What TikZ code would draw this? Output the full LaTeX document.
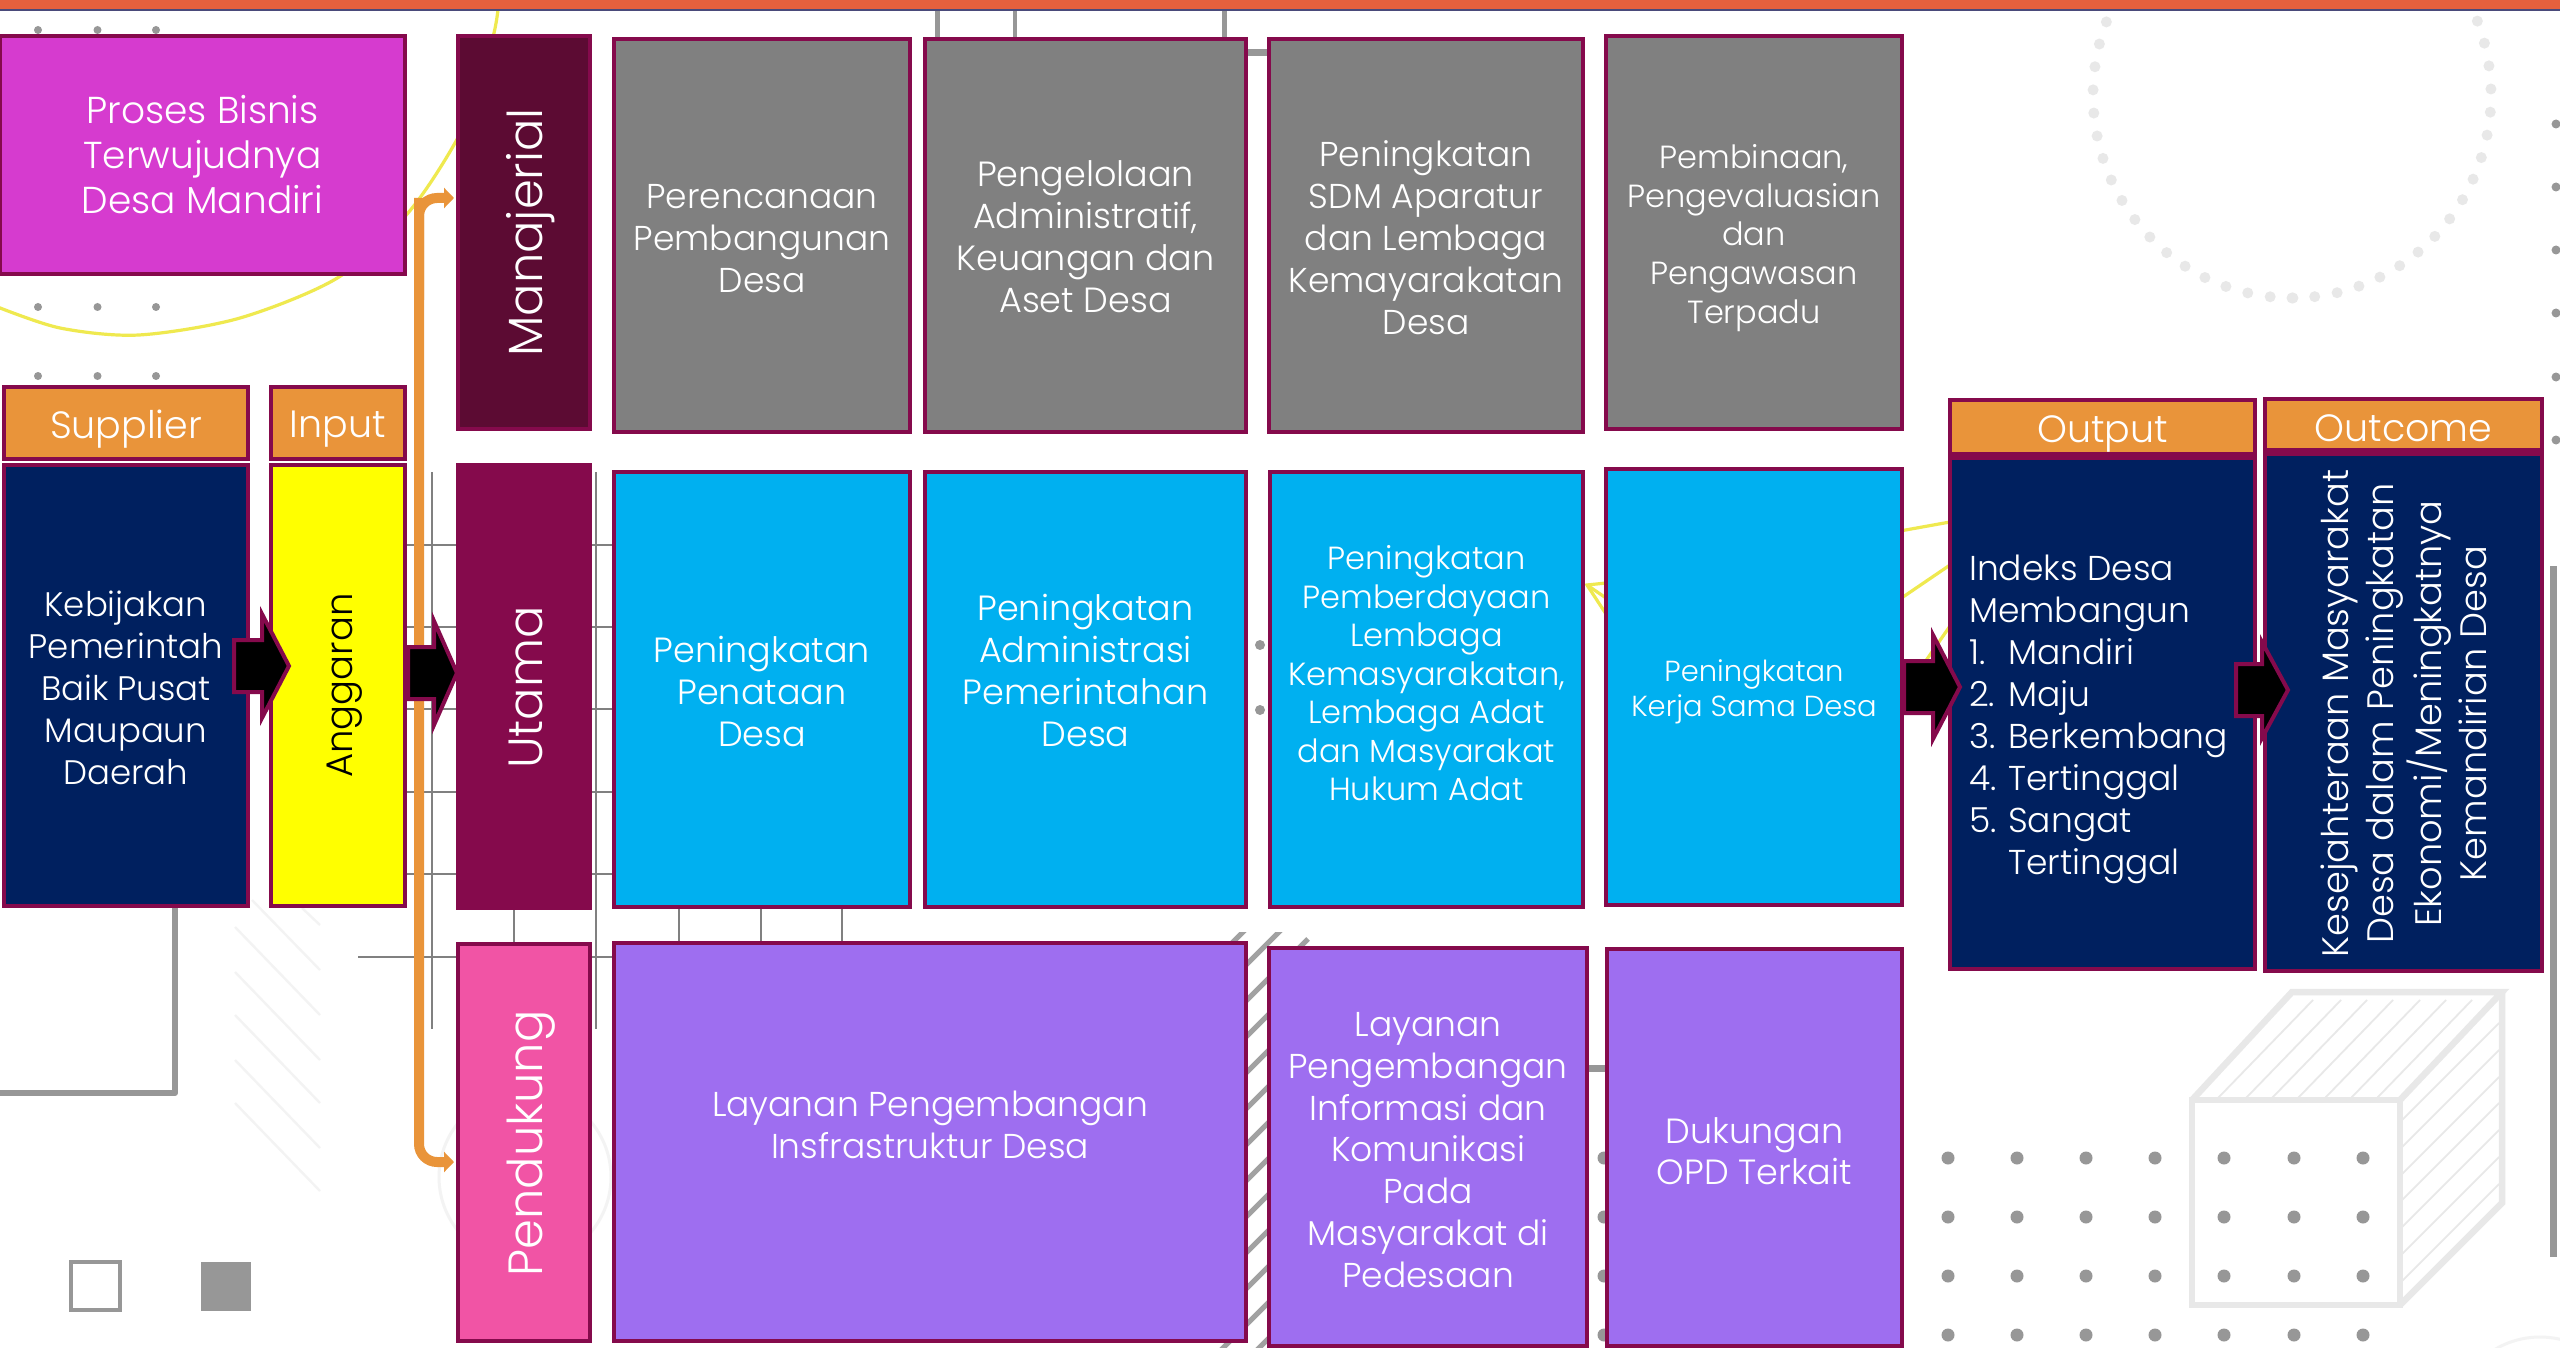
\documentclass[tikz,border=0pt]{standalone}
\usepackage{fontspec}
\setmainfont{Poppins}[UprightFont=* Light]
\usetikzlibrary{calc,arrows.meta}
\definecolor{bord}{HTML}{850A4C}
\definecolor{navy}{HTML}{00205F}
\definecolor{orng}{HTML}{E9943A}
\definecolor{gry}{HTML}{808080}
\definecolor{sky}{HTML}{00B0F0}
\definecolor{purp}{HTML}{9E6EF0}
\definecolor{mgnt}{HTML}{D63BCF}
\definecolor{wine}{HTML}{5C0B33}
\definecolor{pinkb}{HTML}{F154A5}
\definecolor{yel}{HTML}{EFE94F}
\definecolor{dotg}{HTML}{979797}
\definecolor{faint}{HTML}{E8E8E8}
\definecolor{vfaint}{HTML}{F3F3F3}
\definecolor{lineg}{HTML}{808080}
\definecolor{topbar}{HTML}{E6603D}
\definecolor{topline}{HTML}{4A4A7A}
\definecolor{ypure}{HTML}{FFFF00}
\tikzset{
  box/.style={draw=bord,line width=4pt,inner sep=0pt,outer sep=0pt},
  boxtext/.style={inner sep=0pt,align=center,text=white},
  gridline/.style={draw=lineg,line width=2.6pt},
  thickg/.style={draw=dotg,line width=6pt},
  hatchf/.style={draw=vfaint,line width=2.4pt},
  cubeline/.style={draw=faint,line width=6.5pt,line join=miter},
  cubehatch/.style={draw=faint,line width=1.8pt},
  yline/.style={draw=yel,line width=3.2pt},
  diag/.style={draw=dotg!90,line width=5pt},
  orangeline/.style={draw=orng,line width=10pt,rounded corners=18pt},
  blockarrow/.style={draw=bord,fill=black,line width=4pt,line join=miter},
}
\newcommand\fs[2]{\fontsize{#1}{#2}\selectfont}
% name, x1,y1,x2,y2, fill, font commands, text shift, text
\newcommand\bx[9]{%
  \pgfmathsetmacro\bw{#4-#2-4}\pgfmathsetmacro\bh{#5-#3-4}%
  \pgfmathsetmacro\bcx{(#2+#4)/2}\pgfmathsetmacro\bcy{(#3+#5)/2}%
  \node[box,fill=#6,minimum width=\bw pt,minimum height=\bh pt] (#1) at (\bcx,\bcy) {};
  \node[boxtext,font=#7] (#1T) at ($(#1.center)+(#8)$) {#9};}
\newcommand\rot[1]{\rotatebox{90}{\begin{tabular}{@{}c@{}}#1\end{tabular}}}
% block arrow: start, tip, neck distance, half tail, half head
\newcommand\bk[5]{\draw[blockarrow] ($(#1)+(0,-#4)$) -- ($(#1)+(#3,-#4)$) -- ($(#1)+(#3,-#5)$) -- (#2) -- ($(#1)+(#3,#5)$) -- ($(#1)+(#3,#4)$) -- ($(#1)+(0,#4)$) -- cycle;}
\begin{document}
\begin{tikzpicture}[x=1pt,y=-1pt]
\useasboundingbox (0,0) rectangle (2560,1348);
\clip (0,0) rectangle (2560,1348);
\fill[white] (0,0) rectangle (2560,1348);
% --- background decoration
\foreach \a in {0,...,55} {\fill[faint] ({2292+199*cos(270+6.55*\a)},{95-203*sin(270+6.55*\a)}) circle[radius=5.5];}
\foreach \x in {38,97.5,156} \foreach \y in {30,307,376} {\fill[dotg] (\x,\y) circle[radius=4];}
\foreach \y in {124,187,250,313,377,440} {\fill[dotg] (2556,\y) circle[radius=4.5];}
\foreach \x in {1604,1669,1738,1807,1876,1948,2017,2086,2155,2224,2294,2363}
  \foreach \y in {1158,1217,1276,1335} {\fill[dotg] (\x,\y) circle[radius=6.5];}
\foreach \y in {645,710} {\fill[dotg] (1260,\y) circle[radius=5];}
\draw[yline] plot[smooth] coordinates {(-5,306) (60,328) (139,335) (240,318) (339,277) (408,213) (455,143) (480,85) (494,33) (498,10)};
\draw[yline] (1900,531) -- (1950,522);
\draw[yline] (1900,599) -- (1950,565);
\draw[yline] (1925,662) -- (1950,626);
\draw[yline] (1606,583) -- (1587,585) -- (1606,614);
\draw[yline] (1587,585) -- (1606,598);
% thin grid
\foreach \y in {545,627,709,792,874} {\draw[gridline] (400,\y) -- (620,\y);}
\draw[gridline] (358,957) -- (620,957);
\foreach \x in {432,596} {\draw[gridline] (\x,472) -- (\x,1029);}
\foreach \x in {514,679,761,842} {\draw[gridline] (\x,905) -- (\x,945);}
% thick grey strokes
\draw[thickg,line join=round] (175,905) -- (175,1093) -- (-5,1093);
\draw[draw=dotg,line width=5pt] (937,8) -- (937,40);
\draw[draw=dotg,line width=4.5pt] (1015,8) -- (1015,40);
\draw[draw=dotg,line width=5pt] (1224,8) -- (1224,40);
\draw[draw=dotg,line width=7pt] (1245,53) -- (1270,53);
\draw[draw=dotg,line width=7pt] (1585,1068) -- (1608,1068);
\draw[draw=dotg,line width=7pt] (2553.5,566) -- (2553.5,1257);
\draw[draw=dotg,line width=3.5pt] (71,1262) rectangle (120,1310);
\fill[dotg] (201,1262) rectangle (250.5,1311);
% faint hatch
\foreach \y in {927,972,1015,1060,1103} {\draw[hatchf] (235,\y) -- (320,\y+88);}
\draw[hatchf] (252,900) -- (320,970);
\draw[hatchf] (302,908) -- (320,925);
\draw[vfaint,line width=3pt] (525,1177) circle[radius=86];
\draw[vfaint,line width=3pt] (2540,1425) circle[radius=88];
% diagonal strokes behind the purple boxes
\begin{scope}
\clip (1180,932) rectangle (1320,1348);
\foreach \k in {-1,...,11} {\draw[diag] ({1248-45},{963+36*\k+45}) -- ({1248+60},{963+36*\k-60});}
\end{scope}
% cube
\foreach \y in {1120,1147,1174,1200,1227,1254,1281} {\draw[cubehatch] (2402,\y) -- (2499,\y-97);}
\foreach \x in {2218,2246,2272,2298,2325,2351,2377} {\draw[cubehatch] (\x,1098) -- (\x+95,1000);}
\draw[cubeline] (2192,1100) rectangle (2400,1305);
\draw[cubeline] (2192,1100) -- (2292,992) -- (2502,992) -- (2400,1100);
\draw[cubeline] (2502,992) -- (2502,1203) -- (2400,1305);
% top bar
\fill[topbar] (0,0) rectangle (2560,9);
\fill[topline] (0,9) rectangle (2560,11);
% --- orange connector
\coordinate (mTip) at (454,198);
\coordinate (pTip) at (454,1162);
\coordinate (oTop) at (419,198);
\coordinate (oBot) at (419,1162);
\draw[orangeline,-{Triangle[length=10pt,width=20pt]}] (oTop) -- (oBot) -- (pTip);
\draw[orangeline,-{Triangle[length=10pt,width=20pt]}] (419,300) -- (oTop) -- (mTip);
% --- boxes
\bx{proses}{-2}{34}{407}{276}{mgnt}{\fs{37.5}{45}}{0,0}{Proses Bisnis\\Terwujudnya\\Desa Mandiri}
\bx{supH}{2}{385}{250}{461}{orng}{\fs{38}{45}}{0,6.5}{Supplier}
\bx{inpH}{268.5}{385}{407}{461}{orng}{\fs{38}{45}}{0,6.5}{Input}
\bx{sup}{2}{463}{250}{908}{navy}{\fs{34}{42}}{0,2}{Kebijakan\\Pemerintah\\Baik Pusat\\Maupaun\\Daerah}
\bx{inp}{268.5}{463}{407}{908}{ypure}{\fs{37}{45}}{6,0}{\color{black}\rot{Anggaran}}
\bx{man}{455.5}{34}{592}{431}{wine}{\fs{48}{50}}{8,0}{\rot{Manajerial}}
\bx{uta}{455.5}{463}{592}{910}{bord}{\fs{48}{50}}{9,1}{\rot{Utama}}
\bx{pen}{455.5}{942}{592}{1343}{pinkb}{\fs{48}{50}}{8,1}{\rot{Pendukung}}
\bx{g1}{612}{37}{912}{434}{gry}{\fs{34.5}{42}}{0,3}{Perencanaan\\Pembangunan\\Desa}
\bx{g2}{923}{37}{1248}{434}{gry}{\fs{35}{42}}{0,1}{Pengelolaan\\Administratif,\\Keuangan dan\\Aset Desa}
\bx{g3}{1267}{37}{1585}{434}{gry}{\fs{34.5}{42}}{0,2}{Peningkatan\\SDM Aparatur\\dan Lembaga\\Kemayarakatan\\Desa}
\bx{g4}{1604}{34}{1904}{431}{gry}{\fs{32}{38.6}}{0,5.5}{Pembinaan,\\Pengevaluasian\\dan\\Pengawasan\\Terpadu}
\bx{b1}{612}{470}{912}{909}{sky}{\fs{35}{42}}{0,2}{Peningkatan\\Penataan\\Desa}
\bx{b2}{923}{470}{1248}{909}{sky}{\fs{35}{42}}{0,-19}{Peningkatan\\Administrasi\\Pemerintahan\\Desa}
\bx{b3}{1268}{470}{1585}{909}{sky}{\fs{32}{38.5}}{0,-16}{Peningkatan\\Pemberdayaan\\Lembaga\\Kemasyarakatan,\\Lembaga Adat\\dan Masyarakat\\Hukum Adat}
\bx{b4}{1604}{467}{1904}{907}{sky}{\fs{29}{35}}{0,5}{Peningkatan\\Kerja Sama Desa}
\bx{p1}{612}{941}{1248}{1343}{purp}{\fs{34.5}{41.5}}{0,-17}{Layanan Pengembangan\\Insfrastruktur Desa}
\bx{p2}{1267}{946}{1589}{1348}{purp}{\fs{34.5}{41.7}}{0,3}{Layanan\\Pengembangan\\Informasi dan\\Komunikasi\\Pada\\Masyarakat di\\Pedesaan}
\bx{p3}{1605}{947}{1904}{1348}{purp}{\fs{35}{41}}{0,4}{Dukungan\\OPD Terkait}
\bx{outH}{1948}{398}{2257}{456}{orng}{\fs{38}{45}}{0,6.5}{Output}
\bx{out}{1948}{456}{2257}{971}{navy}{\fs{34.5}{42}}{0,0}{}
\node[anchor=west,align=left,text=white,font=\fs{34.5}{42},inner sep=0pt] (outT) at (1969,719) {Indeks Desa\\Membangun\\\makebox[39pt][l]{1.}Mandiri\\\makebox[39pt][l]{2.}Maju\\\makebox[39pt][l]{3.}Berkembang\\\makebox[39pt][l]{4.}Tertinggal\\\makebox[39pt][l]{5.}Sangat\\\makebox[39pt][l]{}Tertinggal};
\bx{ocH}{2263}{397}{2544}{452}{orng}{\fs{38}{45}}{0,3.5}{Outcome}
\bx{oc}{2263}{452}{2544}{973}{navy}{\fs{36.8}{45}}{5,1}{\rot{Kesejahteraan Masyarakat\\Desa dalam Peningkatan\\Ekonomi/Meningkatnya\\Kemandirian Desa}}
% --- block arrows
\coordinate (a1s) at (234,666); \coordinate (a1e) at (289,666);
\coordinate (a2s) at (408,673); \coordinate (a2e) at (457,673);
\coordinate (a3s) at (1904,687); \coordinate (a3e) at (1960,687);
\coordinate (a4s) at (2236,690); \coordinate (a4e) at (2288,690);
\bk{a1s}{a1e}{28}{26}{52}
\bk{a2s}{a2e}{26}{26}{52}
\bk{a3s}{a3e}{29}{26}{52}
\bk{a4s}{a4e}{26}{26}{48}
\end{tikzpicture}
\end{document}
